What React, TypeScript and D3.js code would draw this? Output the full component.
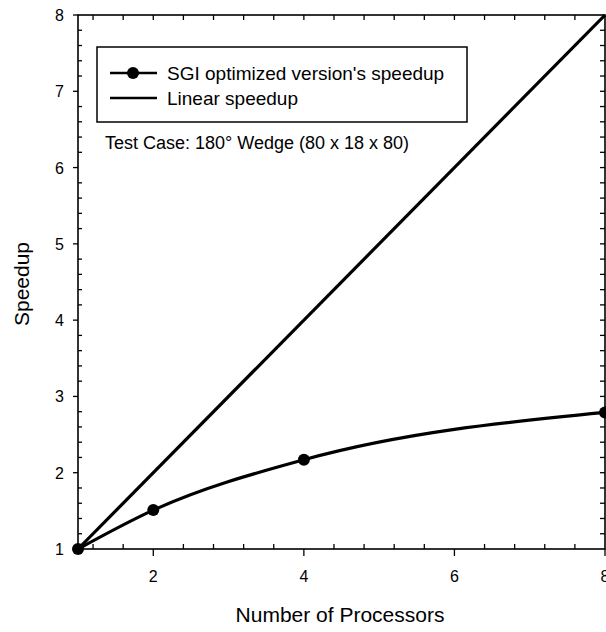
import React from "react";
import * as d3 from "d3";

const processors = [1, 2, 4, 8];
const sgiSpeedup = [1, 1.51, 2.17, 2.79];
const linearX = [1, 8];
const linearY = [1, 8];
const xTickLabels = [2, 4, 6, 8];
const yTickLabels = [1, 2, 3, 4, 5, 6, 7, 8];
const legendLabels = ["SGI optimized version's speedup", "Linear speedup"];
const annotation = "Test Case: 180\u00B0 Wedge (80 x 18 x 80)";
const xTitle = "Number of Processors";
const yTitle = "Speedup";

const W = 606;
const H = 632;
const L = 78, R = 605, T = 15, B = 549;
const FONT = "'Liberation Sans', Arial, Helvetica, sans-serif";

export default function App() {
  const x = d3.scaleLinear().domain([1, 8]).range([L, R]);
  const y = d3.scaleLinear().domain([1, 8]).range([B, T]);

  const sgiPts: [number, number][] = processors.map((p, i) => [p, sgiSpeedup[i]]);
  const linPts: [number, number][] = linearX.map((p, i) => [p, linearY[i]]);
  const lineGen = d3
    .line<[number, number]>()
    .x((d) => x(d[0]))
    .y((d) => y(d[1]))
    .curve(d3.curveMonotoneX);
  const straight = d3
    .line<[number, number]>()
    .x((d) => x(d[0]))
    .y((d) => y(d[1]));

  const xMinor = d3.range(3, 20).map((k) => k * 0.4).filter((v) => v > 1.01 && v < 7.99 && Math.abs(v / 2 - Math.round(v / 2)) > 0.01);
  const yMinor = d3.range(1, 40).map((k) => 1 + k * 0.2).filter((v) => v < 7.99 && Math.abs(v - Math.round(v)) > 0.01);
  const xAllTop = d3.range(3, 20).map((k) => k * 0.4).filter((v) => v > 1.01 && v < 7.99);

  return (
    <svg
      width={W}
      height={H}
      style={{ position: "absolute", left: 0, top: 0, background: "#fff" }}
      fontFamily={FONT}
    >
      <rect x={0} y={0} width={W} height={H} fill="#fff" />
      {/* frame */}
      <rect x={L} y={T} width={R - L} height={B - T} fill="none" stroke="#000" strokeWidth={1.6} />

      {/* x minor ticks bottom (inward) */}
      {xMinor.map((v) => (
        <line key={"xm" + v} x1={x(v)} x2={x(v)} y1={B} y2={B - 5} stroke="#000" strokeWidth={1.3} />
      ))}
      {/* x major ticks bottom (outward) */}
      {xTickLabels.map((v) => (
        <line key={"xM" + v} x1={x(v)} x2={x(v)} y1={B} y2={B + 7} stroke="#000" strokeWidth={1.3} />
      ))}
      {/* top ticks inward */}
      {xAllTop.map((v) => (
        <line key={"xt" + v} x1={x(v)} x2={x(v)} y1={T} y2={T + 5} stroke="#000" strokeWidth={1.3} />
      ))}
      {/* y minor ticks left (inward) */}
      {yMinor.map((v) => (
        <line key={"ym" + v} x1={L} x2={L + 4} y1={y(v)} y2={y(v)} stroke="#000" strokeWidth={1.3} />
      ))}
      {/* y major ticks left (outward) */}
      {yTickLabels.map((v) => (
        <line key={"yM" + v} x1={L - 5} x2={L} y1={y(v)} y2={y(v)} stroke="#000" strokeWidth={1.3} />
      ))}
      {/* right ticks inward */}
      {[...yMinor, ...yTickLabels.filter((v) => v > 1 && v < 8)].map((v) => (
        <line key={"yr" + v} x1={R - 5} x2={R} y1={y(v)} y2={y(v)} stroke="#000" strokeWidth={1.3} />
      ))}

      {/* tick labels */}
      {xTickLabels.map((v) => (
        <text key={"xl" + v} x={x(v)} y={B + 33} textAnchor="middle" fontSize={16} fill="#000">
          {v}
        </text>
      ))}
      {yTickLabels.map((v) => (
        <text key={"yl" + v} x={L - 14} y={y(v) + 6} textAnchor="end" fontSize={16} fill="#000">
          {v}
        </text>
      ))}

      {/* axis titles */}
      <text x={340} y={622} textAnchor="middle" fontSize={21} fill="#000">
        {xTitle}
      </text>
      <text
        transform={`translate(29,${284}) rotate(-90)`}
        textAnchor="middle"
        fontSize={21}
        fill="#000"
      >
        {yTitle}
      </text>

      {/* data lines */}
      <path d={straight(linPts) || ""} fill="none" stroke="#000" strokeWidth={3.2} />
      <path d={lineGen(sgiPts) || ""} fill="none" stroke="#000" strokeWidth={3.2} />
      {sgiPts.map((d, i) => (
        <circle key={"p" + i} cx={x(d[0])} cy={y(d[1])} r={6} fill="#000" />
      ))}

      {/* legend */}
      <rect x={97} y={47} width={370} height={75} fill="#fff" stroke="#000" strokeWidth={1.5} />
      <line x1={110} x2={157} y1={73} y2={73} stroke="#000" strokeWidth={2.5} />
      <circle cx={133} cy={73} r={6} fill="#000" />
      <text x={167} y={80} fontSize={19} fill="#000">
        {legendLabels[0]}
      </text>
      <line x1={110} x2={157} y1={98} y2={98} stroke="#000" strokeWidth={2.5} />
      <text x={167} y={105} fontSize={19} fill="#000">
        {legendLabels[1]}
      </text>
      <text x={105} y={149} fontSize={18} fill="#000">
        {annotation}
      </text>
    </svg>
  );
}
